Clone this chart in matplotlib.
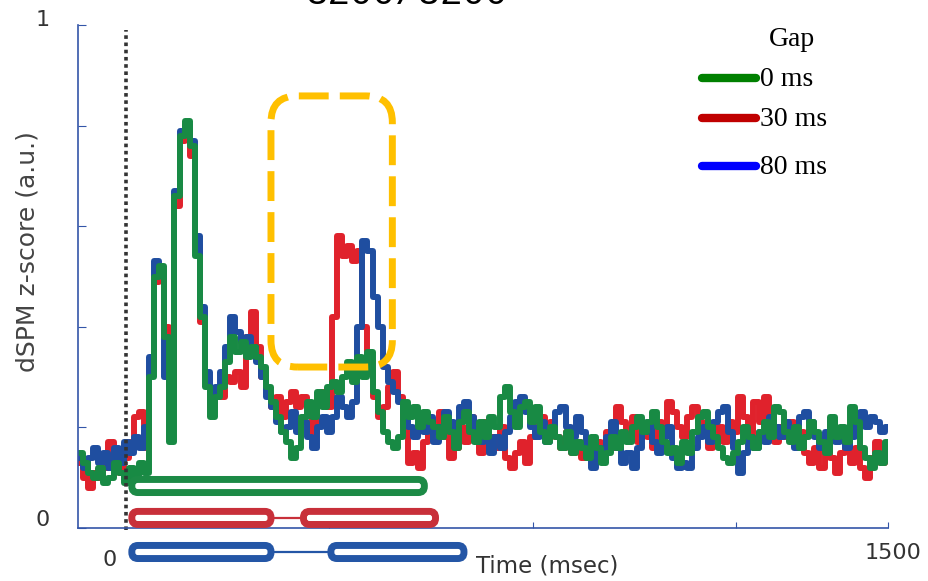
import numpy as np
import matplotlib
matplotlib.use('Agg')
from matplotlib import pyplot as plt
from matplotlib.patches import FancyBboxPatch
from matplotlib.lines import Line2D

# time grid (ms) and dSPM traces, one value per 10 ms
time_ms = np.arange(-90, 1501, 10)

gap0 = [0.15, 0.13, 0.11, 0.10, 0.12, 0.09, 0.10, 0.13, 0.11, 0.09,
        0.12, 0.10, 0.13, 0.11, 0.30, 0.50, 0.52, 0.38, 0.17, 0.66,
        0.78, 0.81, 0.76, 0.54, 0.42, 0.28, 0.22, 0.26, 0.28, 0.33,
        0.38, 0.35, 0.37, 0.34, 0.36, 0.34, 0.32, 0.28, 0.25, 0.22,
        0.19, 0.17, 0.14, 0.16, 0.22, 0.25, 0.22, 0.27, 0.24, 0.28,
        0.29, 0.27, 0.30, 0.33, 0.29, 0.34, 0.30, 0.35, 0.27, 0.23,
        0.19, 0.17, 0.16, 0.18, 0.25, 0.22, 0.24, 0.20, 0.23, 0.21,
        0.20, 0.18, 0.22, 0.19, 0.16, 0.21, 0.23, 0.19, 0.17, 0.21,
        0.18, 0.22, 0.20, 0.26, 0.28, 0.23, 0.20, 0.24, 0.25, 0.21,
        0.24, 0.19, 0.17, 0.20, 0.18, 0.16, 0.19, 0.15, 0.17, 0.16,
        0.14, 0.18, 0.16, 0.13, 0.15, 0.18, 0.16, 0.19, 0.17, 0.20,
        0.22, 0.19, 0.21, 0.23, 0.20, 0.17, 0.15, 0.16, 0.13, 0.17,
        0.15, 0.19, 0.22, 0.23, 0.20, 0.18, 0.16, 0.14, 0.13, 0.15,
        0.17, 0.20, 0.18, 0.16, 0.19, 0.21, 0.18, 0.24, 0.23, 0.19,
        0.17, 0.20, 0.16, 0.18, 0.21, 0.19, 0.17, 0.15, 0.22, 0.18,
        0.20, 0.17, 0.24, 0.21, 0.16, 0.14, 0.12, 0.15, 0.13, 0.17]

gap30 = [0.13, 0.10, 0.08, 0.11, 0.10, 0.12, 0.17, 0.13, 0.11, 0.14,
         0.17, 0.22, 0.23, 0.16, 0.32, 0.49, 0.50, 0.40, 0.28, 0.64,
         0.77, 0.80, 0.74, 0.56, 0.41, 0.30, 0.24, 0.27, 0.26, 0.30,
         0.29, 0.31, 0.28, 0.38, 0.43, 0.36, 0.30, 0.27, 0.24, 0.26,
         0.22, 0.25, 0.27, 0.24, 0.26, 0.23, 0.19, 0.25, 0.27, 0.24,
         0.42, 0.58, 0.54, 0.56, 0.53, 0.55, 0.40, 0.31, 0.26, 0.22,
         0.24, 0.28, 0.31, 0.26, 0.20, 0.13, 0.15, 0.12, 0.17, 0.21,
         0.19, 0.23, 0.18, 0.14, 0.16, 0.20, 0.17, 0.22, 0.19, 0.15,
         0.21, 0.18, 0.16, 0.20, 0.14, 0.12, 0.15, 0.17, 0.13, 0.18,
         0.20, 0.22, 0.19, 0.21, 0.18, 0.16, 0.19, 0.15, 0.17, 0.14,
         0.16, 0.13, 0.17, 0.15, 0.19, 0.16, 0.24, 0.21, 0.18, 0.22,
         0.17, 0.20, 0.18, 0.16, 0.21, 0.19, 0.25, 0.23, 0.20, 0.18,
         0.22, 0.24, 0.21, 0.19, 0.16, 0.18, 0.20, 0.17, 0.21, 0.19,
         0.26, 0.22, 0.18, 0.25, 0.21, 0.26, 0.19, 0.17, 0.20, 0.18,
         0.21, 0.17, 0.19, 0.15, 0.13, 0.16, 0.12, 0.18, 0.14, 0.11,
         0.15, 0.18, 0.13, 0.16, 0.12, 0.10, 0.14, 0.17, 0.13, 0.16]

gap80 = [0.14, 0.12, 0.14, 0.16, 0.13, 0.15, 0.12, 0.16, 0.13, 0.17,
         0.15, 0.18, 0.16, 0.20, 0.34, 0.53, 0.51, 0.30, 0.35, 0.67,
         0.79, 0.80, 0.77, 0.58, 0.44, 0.31, 0.25, 0.28, 0.31, 0.36,
         0.42, 0.39, 0.37, 0.38, 0.36, 0.33, 0.30, 0.26, 0.24, 0.21,
         0.19, 0.20, 0.23, 0.19, 0.21, 0.18, 0.16, 0.20, 0.22, 0.19,
         0.22, 0.26, 0.24, 0.22, 0.25, 0.40, 0.57, 0.55, 0.46, 0.40,
         0.32, 0.29, 0.27, 0.25, 0.23, 0.20, 0.18, 0.21, 0.19, 0.22,
         0.17, 0.20, 0.23, 0.21, 0.18, 0.24, 0.25, 0.22, 0.19, 0.17,
         0.20, 0.15, 0.18, 0.16, 0.19, 0.22, 0.25, 0.26, 0.23, 0.20,
         0.18, 0.21, 0.17, 0.19, 0.23, 0.24, 0.20, 0.18, 0.22, 0.19,
         0.15, 0.12, 0.16, 0.14, 0.18, 0.21, 0.16, 0.13, 0.15, 0.12,
         0.16, 0.19, 0.21, 0.17, 0.15, 0.18, 0.20, 0.14, 0.12, 0.13,
         0.12, 0.16, 0.18, 0.20, 0.17, 0.21, 0.23, 0.24, 0.19, 0.16,
         0.11, 0.15, 0.18, 0.16, 0.19, 0.17, 0.22, 0.20, 0.18, 0.21,
         0.19, 0.16, 0.22, 0.23, 0.21, 0.18, 0.16, 0.19, 0.21, 0.17,
         0.19, 0.16, 0.18, 0.21, 0.23, 0.20, 0.22, 0.21, 0.19, 0.20]

# significant windows (ms) per condition
windows_0 = [(11, 587)]
windows_30 = [(11, 285), (349, 609)]
windows_80 = [(11, 285), (403, 665)]
bar_levels = [0.0835, 0.020, -0.0477]

legend_labels = ['0 ms', '30 ms', '80 ms']
legend_colors = ['#008000', '#C00000', '#0000FF']

W, H = 929, 581
fig = plt.figure(figsize=(W / 100, H / 100), dpi=100)
ax = fig.add_axes([78 / W, 1 - 528 / H, 810 / W, 503 / H])

def fx(px):
    return px / W

def fy(py):
    return 1 - py / H

axis_col = '#3355A8'
ax.set_xlim(-95, 1500)
ax.set_ylim(0, 1)
for s in ['top', 'right']:
    ax.spines[s].set_visible(False)
for s in ['left', 'bottom']:
    ax.spines[s].set_color(axis_col)
    ax.spines[s].set_linewidth(1.2)
ax.set_xticks([400, 800, 1200, 1500])
ax.set_yticks([0, 0.2, 0.4, 0.6, 0.8, 1.0])
ax.tick_params(axis='x', direction='in', length=4, color=axis_col, labelbottom=False)
ax.tick_params(axis='y', direction='in', length=6, color=axis_col, labelleft=False)

# traces
lw_trace = 4.3
ax.plot(time_ms, gap30, color='#E0222C', lw=lw_trace, drawstyle='steps-mid')
ax.plot(time_ms, gap80, color='#1F4EA0', lw=lw_trace, drawstyle='steps-mid')
ax.plot(time_ms, gap0, color='#188A44', lw=lw_trace, drawstyle='steps-mid')

# stimulus onset
ax.plot([0, 0], [-0.004, 0.99], color='#333333', lw=2.6, ls=(0, (1, 1)),
        clip_on=False)

# rounded shapes: aspect between y units and ms on screen
aspect = (1 / 503) / (1 / 0.508)

# highlight box
box = FancyBboxPatch((285, 0.32), 524 - 285, 0.859 - 0.32,
                     boxstyle='round,pad=0,rounding_size=52',
                     mutation_aspect=aspect, fill=False, ec='#FFC000',
                     lw=5, ls=(0, (4.3, 1.6)), clip_on=False, zorder=5)
ax.add_patch(box)

# significance bars
bar_h = 0.026
for wins, lvl, col in zip([windows_0, windows_30, windows_80], bar_levels,
                          ['#1C8A46', '#C8303A', '#2456A6']):
    for i, (a, b) in enumerate(wins):
        p = FancyBboxPatch((a, lvl - bar_h / 2), b - a, bar_h,
                           boxstyle='round,pad=0,rounding_size=12',
                           mutation_aspect=aspect, fc='white', ec=col,
                           lw=5, clip_on=False, zorder=6)
        ax.add_patch(p)
        if i > 0:
            ax.plot([wins[i - 1][1], a], [lvl, lvl], color=col, lw=1.6,
                    clip_on=False, zorder=5)

# axis text
txt_col = '#333333'
fig.text(fx(43), fy(20), '1', ha='center', va='center', fontsize=16, color=txt_col)
fig.text(fx(43), fy(520), '0', ha='center', va='center', fontsize=16, color=txt_col)
fig.text(fx(110), fy(560), '0', ha='center', va='center', fontsize=16, color=txt_col)
fig.text(fx(893), fy(553), '1500', ha='center', va='center', fontsize=16, color=txt_col)
fig.text(fx(547), fy(566), 'Time (msec)', ha='center', va='center', fontsize=16.5,
         color=txt_col)
fig.text(fx(28), fy(252), 'dSPM z-score (a.u.)', ha='center', va='center',
         rotation=90, fontsize=18, color='#444444')

# title, cut off at the top edge as in the source figure
fig.text(fx(407), fy(4), '3200/3200', ha='center', va='baseline',
         family='Liberation Mono', fontsize=27, color='black')

# legend
fig.text(fx(792), fy(40), 'Gap', ha='center', va='center',
         family='Liberation Serif', fontsize=20)
for lab, col, ly in zip(legend_labels, legend_colors, [78, 118, 166]):
    fig.add_artist(Line2D([fx(702), fx(756)], [fy(ly), fy(ly)], color=col,
                          lw=6, solid_capstyle='round'))
    fig.text(fx(760), fy(ly + 1), lab, ha='left', va='center',
             family='Liberation Serif', fontsize=20)

fig.savefig('out.png', dpi=100)
